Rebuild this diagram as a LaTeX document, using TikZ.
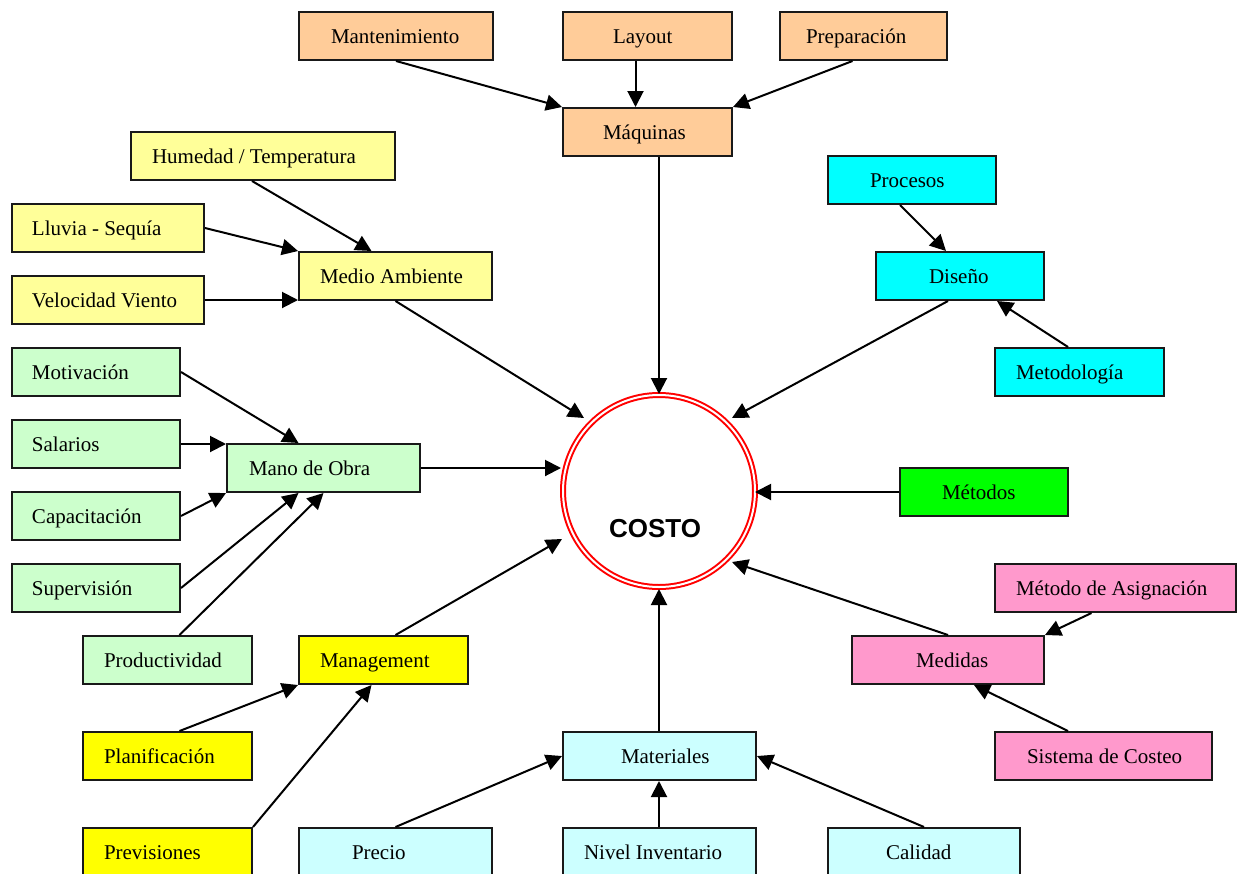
\documentclass[tikz,border=0pt]{standalone}
\usepackage{fontspec}
\setmainfont{Liberation Serif}
\newfontfamily\costofont{Liberation Sans}
\usetikzlibrary{arrows.meta,calc}
\definecolor{cOrange}{HTML}{FFCC99}
\definecolor{cYlight}{HTML}{FFFF99}
\definecolor{cGlight}{HTML}{CCFFCC}
\definecolor{cCyan}{HTML}{00FFFF}
\definecolor{cGreen}{HTML}{00FF00}
\definecolor{cPink}{HTML}{FF99CC}
\definecolor{cYellow}{HTML}{FFFF00}
\definecolor{cLcyan}{HTML}{CCFFFF}
\tikzset{
  bx/.style={draw=black!90, line width=2pt, inner sep=0pt, minimum height=48pt,
    text height=14pt, text depth=0pt, font=\fontsize{21}{25}\selectfont},
  arr/.style={-{Triangle[length=16pt,width=16pt]}, line width=2pt, draw=black},
  costostyle/.style={circle, draw=red, line width=2pt, double=white, double distance=2pt,
    minimum size=192pt, inner sep=0pt, font=\costofont\bfseries\fontsize{26}{30}\selectfont}
}
\newcommand\bx[7]{\node[bx,fill=#6,anchor=north west] (#1) at (#2,#3)
  {\makebox[\dimexpr#4pt-#2pt\relax][l]{\hspace*{#5pt}#7}};}
\begin{document}
\begin{tikzpicture}[x=1pt,y=-1pt]
\useasboundingbox (0,0) rectangle (1237,873);
% nodes
\bx{mant}{298}{11}{492}{32}{cOrange}{Mantenimiento}
\bx{layout}{562}{11}{731}{50}{cOrange}{Layout}
\bx{prep}{779}{11}{946}{26}{cOrange}{Preparación}
\bx{maq}{562}{107}{731}{40}{cOrange}{Máquinas}
\bx{hum}{130}{131}{394}{21}{cYlight}{Humedad / Temperatura}
\bx{lluv}{11}{203}{203}{20}{cYlight}{Lluvia - Sequía}
\bx{medio}{298}{251}{491}{21}{cYlight}{Medio Ambiente}
\bx{vel}{11}{275}{203}{20}{cYlight}{Velocidad Viento}
\bx{proc}{827}{155}{995}{42}{cCyan}{Procesos}
\bx{dis}{875}{251}{1043}{53}{cCyan}{Diseño}
\bx{metod}{994}{347}{1163}{21}{cCyan}{Metodología}
\bx{motiv}{11}{347}{179}{20}{cGlight}{Motivación}
\bx{sal}{11}{419}{179}{20}{cGlight}{Salarios}
\bx{mano}{226}{443}{419}{22}{cGlight}{Mano de Obra}
\bx{cap}{11}{491}{179}{20}{cGlight}{Capacitación}
\bx{sup}{11}{563}{179}{20}{cGlight}{Supervisión}
\bx{prod}{82}{635}{251}{21}{cGlight}{Productividad}
\bx{mgmt}{298}{635}{467}{21}{cYellow}{Management}
\bx{metodos}{899}{467}{1067}{42}{cGreen}{Métodos}
\bx{asig}{994}{563}{1235}{21}{cPink}{Método de Asignación}
\bx{medidas}{851}{635}{1043}{64}{cPink}{Medidas}
\bx{mat}{562}{731}{755}{58}{cLcyan}{Materiales}
\bx{plan}{82}{731}{251}{21}{cYellow}{Planificación}
\bx{sist}{994}{731}{1211}{32}{cPink}{Sistema de Costeo}
\bx{prev}{82}{827}{251}{21}{cYellow}{Previsiones}
\bx{precio}{298}{827}{491}{53}{cLcyan}{Precio}
\bx{nivel}{562}{827}{755}{21}{cLcyan}{Nivel Inventario}
\bx{cal}{827}{827}{1019}{58}{cLcyan}{Calidad}
\node[costostyle] (costo) at (659,491) {\smash{\raisebox{-46.5pt}{\kern-8pt COSTO}}};
\coordinate (cw) at ($(costo.center)+(-98,0)$);
\coordinate (ce) at ($(costo.center)+(96,0)$);
\coordinate (cn) at ($(costo.center)+(0,-97)$);
\coordinate (cs) at ($(costo.center)+(0,98)$);
% connectors
\draw[arr] (mant.south) -- (maq.north west);
\draw[arr] ([xshift=-12pt]layout.south) -- ([xshift=-12pt]maq.north);
\draw[arr] ([xshift=-11pt]prep.south) -- (maq.north east);
\draw[arr] (maq.south -| cn) -- (cn);
\draw[arr] ([xshift=-11pt]hum.south) -- ([xshift=-24pt]medio.north);
\draw[arr] (lluv.east) -- (medio.north west);
\draw[arr] (vel.east) -- (vel.east -| medio.west);
\draw[arr] (medio.south) -- ($(costo.center)+(-75,-73)$);
\draw[arr] ([xshift=-12pt]proc.south) -- ([xshift=-14pt]dis.north);
\draw[arr] ([xshift=-11.5pt]metod.north) -- ([xshift=37pt]dis.south);
\draw[arr] ([xshift=-12pt]dis.south) -- ($(costo.center)+(73,-73)$);
\draw[arr] (motiv.east) -- ([xshift=-25pt]mano.north);
\draw[arr] (sal.east) -- (sal.east -| mano.west);
\draw[arr] (cap.east) -- (mano.south west);
\draw[arr] (sup.east) -- ([xshift=-25pt]mano.south);
\draw[arr] ([xshift=12pt]prod.north) -- (mano.south);
\draw[arr] (mano.east) -- (mano.east -| cw);
\draw[arr] ([xshift=12pt]mgmt.north) -- ($(costo.center)+(-97,48)$);
\draw[arr] ([xshift=12pt]plan.north) -- (mgmt.south west);
\draw[arr] (prev.north east) -- ([xshift=-12pt]mgmt.south);
\draw[arr] (metodos.west) -- (metodos.west -| ce);
\draw[arr] ([xshift=-24pt]asig.south) -- (medidas.north east);
\draw[arr] ([xshift=-35.5pt]sist.north) -- ([xshift=26pt]medidas.south);
\draw[arr] (medidas.north) -- ($(costo.center)+(73,71)$);
\draw[arr] (mat.north -| cs) -- (cs);
\draw[arr] (precio.north) -- (mat.west);
\draw[arr] (nivel.north -| cs) -- (mat.south -| cs);
\draw[arr] (cal.north) -- (mat.east);
\end{tikzpicture}
\end{document}
